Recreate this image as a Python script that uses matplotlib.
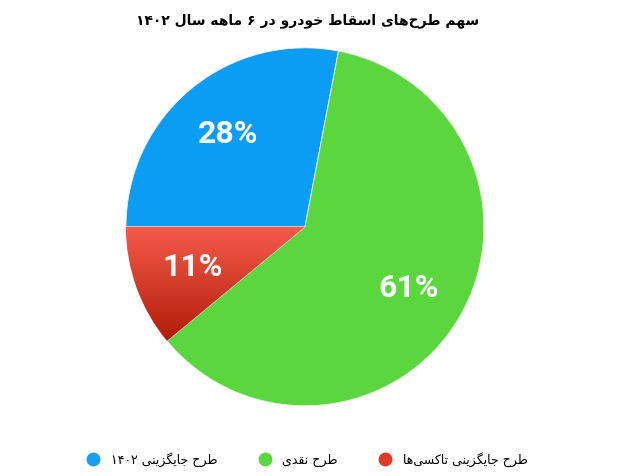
import numpy as np
import matplotlib.pyplot as plt
from matplotlib.colors import LinearSegmentedColormap

# chart data
labels = ["طرح جایگزینی ۱۴۰۲", "طرح نقدی", "طرح جایگزینی تاکسی‌ها"]
values = [28, 61, 11]
colors = ["#0b9df4", "#5cd63e", "#e64330"]
title = "سهم طرح‌های اسقاط خودرو در ۶ ماهه سال ۱۴۰۲"

# minimal persian shaping (matplotlib has no arabic text layout)
FORMS = {
    "ا": ("\uFE8D", "\uFE8E", None, None),
    "ت": ("\uFE95", "\uFE96", "\uFE97", "\uFE98"),
    "ج": ("\uFE9D", "\uFE9E", "\uFE9F", "\uFEA0"),
    "ح": ("\uFEA1", "\uFEA2", "\uFEA3", "\uFEA4"),
    "خ": ("\uFEA5", "\uFEA6", "\uFEA7", "\uFEA8"),
    "د": ("\uFEA9", "\uFEAA", None, None),
    "ر": ("\uFEAD", "\uFEAE", None, None),
    "ز": ("\uFEAF", "\uFEB0", None, None),
    "س": ("\uFEB1", "\uFEB2", "\uFEB3", "\uFEB4"),
    "ط": ("\uFEC1", "\uFEC2", "\uFEC3", "\uFEC4"),
    "ق": ("\uFED5", "\uFED6", "\uFED7", "\uFED8"),
    "ک": ("\uFB8E", "\uFB8F", "\uFB90", "\uFB91"),
    "گ": ("\uFB92", "\uFB93", "\uFB94", "\uFB95"),
    "ل": ("\uFEDD", "\uFEDE", "\uFEDF", "\uFEE0"),
    "م": ("\uFEE1", "\uFEE2", "\uFEE3", "\uFEE4"),
    "ن": ("\uFEE5", "\uFEE6", "\uFEE7", "\uFEE8"),
    "ه": ("\uFEE9", "\uFEEA", "\uFEEB", "\uFEEC"),
    "و": ("\uFEED", "\uFEEE", None, None),
    "ی": ("\uFBFC", "\uFBFD", "\uFBFE", "\uFBFF"),
}


def dual(c):
    return c in FORMS and FORMS[c][2] is not None


def shape(text):
    out = []
    for i, c in enumerate(text):
        if c == "\u200c":
            continue
        if c not in FORMS:
            out.append(c)
            continue
        prev = text[i - 1] if i > 0 else ""
        nxt = text[i + 1] if i + 1 < len(text) else ""
        jp = dual(prev)
        jn = dual(c) and nxt in FORMS
        iso, fin, ini, med = FORMS[c]
        if jp and jn:
            out.append(med)
        elif jp:
            out.append(fin)
        elif jn:
            out.append(ini)
        else:
            out.append(iso)
    # visual order: reverse, keep digit runs left-to-right
    s = "".join(out)[::-1]
    res, run = "", ""
    for c in s:
        if c.isdigit():
            run += c
        else:
            res += run[::-1] + c
            run = ""
    return res + run[::-1]


fig = plt.figure(figsize=(6.44, 4.76), dpi=100)
ax = fig.add_axes([0.190, 0.14, 0.567, 0.767])

wedges, texts, autotexts = ax.pie(
    values, colors=colors, startangle=180, counterclock=False,
    autopct="%d%%", pctdistance=0.67,
    wedgeprops=dict(linewidth=0.6, edgecolor="#f2f2f2"),
    textprops=dict(color="white", fontsize=23, fontweight="bold", family="Roboto"))

# gradient fill for the red slice
cmap = LinearSegmentedColormap.from_list("red", ["#f65c4b", "#b01b08"])
grad = np.linspace(0, 1, 256).reshape(-1, 1)
img = ax.imshow(grad, cmap=cmap, extent=[-1, 0, -0.65, 0], aspect="auto", zorder=1.5,
                origin="upper")
img.set_clip_path(wedges[2])
ax.set_xlim(-1.02, 1.02)
ax.set_ylim(-1.02, 1.02)
ax.set_aspect("equal")
ax.axis("off")

fig.text(0.477, 0.957, shape(title), ha="center", va="center", fontsize=10,
         fontweight="bold", family="DejaVu Sans")

handles = [plt.Line2D([], [], marker="o", linestyle="", markersize=9, color=c)
           for c in ["#1a9ff0", "#5cd63e", "#dd3a26"]]
fig.legend(handles, [shape(l) for l in labels], loc="center", ncol=3,
           bbox_to_anchor=(0.472, 0.035), frameon=False, fontsize=9,
           handletextpad=0.4, columnspacing=2.8)

fig.savefig("out.png", dpi=100)
